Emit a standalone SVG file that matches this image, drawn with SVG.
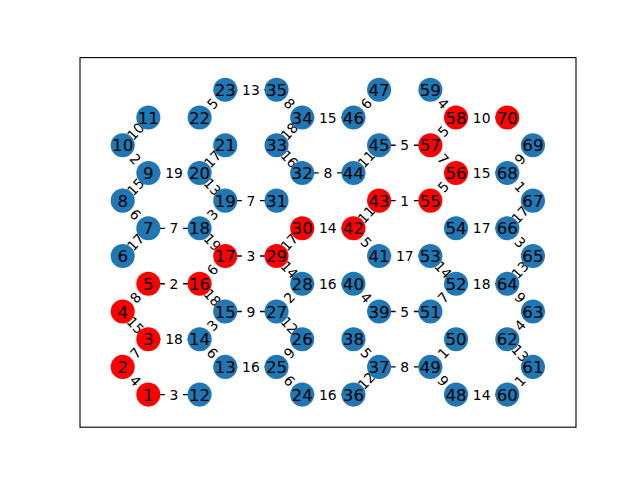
<svg xmlns="http://www.w3.org/2000/svg" xmlns:xlink="http://www.w3.org/1999/xlink" width="640" height="480" viewBox="0 0 640 480">
<style>
.e line{stroke:#000;stroke-width:1.39;fill:none}
.lb use{fill:#fff;stroke:#fff}
.lb text{font-family:"DejaVu Sans",sans-serif;font-size:13.89px;text-anchor:middle;fill:#000}
.nd circle{stroke:none}
.nd text{font-family:"DejaVu Sans",sans-serif;font-size:16.67px;text-anchor:middle;fill:#000}
.b{fill:#1f77b4}
.r{fill:#ff0000}
</style>
<defs>
<rect id="b1" x="-8.6" y="-11" width="17.2" height="22" rx="4"/>
<rect id="b2" x="-13" y="-11" width="26" height="22" rx="4"/>
</defs>
<rect x="0" y="0" width="640" height="480" fill="#fff"/>
<rect x="80" y="57.6" width="496" height="369.6" fill="none" stroke="#000" stroke-width="1.11"/>
<g id="connectors" class="e">
<line x1="122.7" y1="366.89" x2="148.34" y2="394.6"/>
<line x1="122.7" y1="366.89" x2="148.34" y2="339.18"/>
<line x1="122.7" y1="311.47" x2="148.34" y2="339.18"/>
<line x1="122.7" y1="311.47" x2="148.34" y2="283.76"/>
<line x1="122.7" y1="256.05" x2="148.34" y2="228.34"/>
<line x1="122.7" y1="200.63" x2="148.34" y2="228.34"/>
<line x1="122.7" y1="200.63" x2="148.34" y2="172.92"/>
<line x1="122.7" y1="145.21" x2="148.34" y2="172.92"/>
<line x1="122.7" y1="145.21" x2="148.34" y2="117.5"/>
<line x1="148.34" y1="394.6" x2="199.62" y2="394.6"/>
<line x1="148.34" y1="339.18" x2="199.62" y2="339.18"/>
<line x1="148.34" y1="283.76" x2="199.62" y2="283.76"/>
<line x1="148.34" y1="228.34" x2="199.62" y2="228.34"/>
<line x1="148.34" y1="172.92" x2="199.62" y2="172.92"/>
<line x1="199.62" y1="339.18" x2="225.26" y2="366.89"/>
<line x1="199.62" y1="339.18" x2="225.26" y2="311.47"/>
<line x1="199.62" y1="283.76" x2="225.26" y2="311.47"/>
<line x1="199.62" y1="283.76" x2="225.26" y2="256.05"/>
<line x1="199.62" y1="228.34" x2="225.26" y2="256.05"/>
<line x1="199.62" y1="228.34" x2="225.26" y2="200.63"/>
<line x1="199.62" y1="172.92" x2="225.26" y2="200.63"/>
<line x1="199.62" y1="172.92" x2="225.26" y2="145.21"/>
<line x1="199.62" y1="117.5" x2="225.26" y2="89.79"/>
<line x1="225.26" y1="366.89" x2="276.54" y2="366.89"/>
<line x1="225.26" y1="311.47" x2="276.54" y2="311.47"/>
<line x1="225.26" y1="256.05" x2="276.54" y2="256.05"/>
<line x1="225.26" y1="200.63" x2="276.54" y2="200.63"/>
<line x1="225.26" y1="89.79" x2="276.54" y2="89.79"/>
<line x1="276.54" y1="366.89" x2="302.18" y2="394.6"/>
<line x1="276.54" y1="366.89" x2="302.18" y2="339.18"/>
<line x1="276.54" y1="311.47" x2="302.18" y2="339.18"/>
<line x1="276.54" y1="311.47" x2="302.18" y2="283.76"/>
<line x1="276.54" y1="256.05" x2="302.18" y2="283.76"/>
<line x1="276.54" y1="256.05" x2="302.18" y2="228.34"/>
<line x1="276.54" y1="145.21" x2="302.18" y2="172.92"/>
<line x1="276.54" y1="145.21" x2="302.18" y2="117.5"/>
<line x1="276.54" y1="89.79" x2="302.18" y2="117.5"/>
<line x1="302.18" y1="394.6" x2="353.46" y2="394.6"/>
<line x1="302.18" y1="283.76" x2="353.46" y2="283.76"/>
<line x1="302.18" y1="228.34" x2="353.46" y2="228.34"/>
<line x1="302.18" y1="172.92" x2="353.46" y2="172.92"/>
<line x1="302.18" y1="117.5" x2="353.46" y2="117.5"/>
<line x1="353.46" y1="394.6" x2="379.1" y2="366.89"/>
<line x1="353.46" y1="339.18" x2="379.1" y2="366.89"/>
<line x1="353.46" y1="283.76" x2="379.1" y2="311.47"/>
<line x1="353.46" y1="228.34" x2="379.1" y2="256.05"/>
<line x1="353.46" y1="228.34" x2="379.1" y2="200.63"/>
<line x1="353.46" y1="172.92" x2="379.1" y2="145.21"/>
<line x1="353.46" y1="117.5" x2="379.1" y2="89.79"/>
<line x1="379.1" y1="366.89" x2="430.38" y2="366.89"/>
<line x1="379.1" y1="311.47" x2="430.38" y2="311.47"/>
<line x1="379.1" y1="256.05" x2="430.38" y2="256.05"/>
<line x1="379.1" y1="200.63" x2="430.38" y2="200.63"/>
<line x1="379.1" y1="145.21" x2="430.38" y2="145.21"/>
<line x1="430.38" y1="366.89" x2="456.02" y2="394.6"/>
<line x1="430.38" y1="366.89" x2="456.02" y2="339.18"/>
<line x1="430.38" y1="311.47" x2="456.02" y2="283.76"/>
<line x1="430.38" y1="256.05" x2="456.02" y2="283.76"/>
<line x1="430.38" y1="200.63" x2="456.02" y2="172.92"/>
<line x1="430.38" y1="145.21" x2="456.02" y2="172.92"/>
<line x1="430.38" y1="145.21" x2="456.02" y2="117.5"/>
<line x1="430.38" y1="89.79" x2="456.02" y2="117.5"/>
<line x1="456.02" y1="394.6" x2="507.3" y2="394.6"/>
<line x1="456.02" y1="283.76" x2="507.3" y2="283.76"/>
<line x1="456.02" y1="228.34" x2="507.3" y2="228.34"/>
<line x1="456.02" y1="172.92" x2="507.3" y2="172.92"/>
<line x1="456.02" y1="117.5" x2="507.3" y2="117.5"/>
<line x1="507.3" y1="394.6" x2="532.94" y2="366.89"/>
<line x1="507.3" y1="339.18" x2="532.94" y2="366.89"/>
<line x1="507.3" y1="339.18" x2="532.94" y2="311.47"/>
<line x1="507.3" y1="283.76" x2="532.94" y2="311.47"/>
<line x1="507.3" y1="283.76" x2="532.94" y2="256.05"/>
<line x1="507.3" y1="228.34" x2="532.94" y2="256.05"/>
<line x1="507.3" y1="228.34" x2="532.94" y2="200.63"/>
<line x1="507.3" y1="172.92" x2="532.94" y2="200.63"/>
<line x1="507.3" y1="172.92" x2="532.94" y2="145.21"/>
</g>
<g id="connector-labels" class="lb">
<g transform="translate(135.52,380.745) rotate(47.22)"><use xlink:href="#b1"/><text y="5.06">4</text></g>
<g transform="translate(135.52,353.035) rotate(-47.22)"><use xlink:href="#b1"/><text y="5.06">7</text></g>
<g transform="translate(135.52,325.325) rotate(47.22)"><use xlink:href="#b2"/><text y="5.06">15</text></g>
<g transform="translate(135.52,297.615) rotate(-47.22)"><use xlink:href="#b1"/><text y="5.06">8</text></g>
<g transform="translate(135.52,242.195) rotate(-47.22)"><use xlink:href="#b2"/><text y="5.06">17</text></g>
<g transform="translate(135.52,214.485) rotate(47.22)"><use xlink:href="#b1"/><text y="5.06">6</text></g>
<g transform="translate(135.52,186.775) rotate(-47.22)"><use xlink:href="#b2"/><text y="5.06">15</text></g>
<g transform="translate(135.52,159.065) rotate(47.22)"><use xlink:href="#b1"/><text y="5.06">2</text></g>
<g transform="translate(135.52,131.355) rotate(-47.22)"><use xlink:href="#b2"/><text y="5.06">10</text></g>
<g transform="translate(173.98,394.6)"><use xlink:href="#b1"/><text y="5.06">3</text></g>
<g transform="translate(173.98,339.18)"><use xlink:href="#b2"/><text y="5.06">18</text></g>
<g transform="translate(173.98,283.76)"><use xlink:href="#b1"/><text y="5.06">2</text></g>
<g transform="translate(173.98,228.34)"><use xlink:href="#b1"/><text y="5.06">7</text></g>
<g transform="translate(173.98,172.92)"><use xlink:href="#b2"/><text y="5.06">19</text></g>
<g transform="translate(212.44,353.035) rotate(47.22)"><use xlink:href="#b1"/><text y="5.06">6</text></g>
<g transform="translate(212.44,325.325) rotate(-47.22)"><use xlink:href="#b1"/><text y="5.06">3</text></g>
<g transform="translate(212.44,297.615) rotate(47.22)"><use xlink:href="#b2"/><text y="5.06">18</text></g>
<g transform="translate(212.44,269.905) rotate(-47.22)"><use xlink:href="#b1"/><text y="5.06">6</text></g>
<g transform="translate(212.44,242.195) rotate(47.22)"><use xlink:href="#b2"/><text y="5.06">19</text></g>
<g transform="translate(212.44,214.485) rotate(-47.22)"><use xlink:href="#b1"/><text y="5.06">3</text></g>
<g transform="translate(212.44,186.775) rotate(47.22)"><use xlink:href="#b2"/><text y="5.06">13</text></g>
<g transform="translate(212.44,159.065) rotate(-47.22)"><use xlink:href="#b2"/><text y="5.06">17</text></g>
<g transform="translate(212.44,103.645) rotate(-47.22)"><use xlink:href="#b1"/><text y="5.06">5</text></g>
<g transform="translate(250.9,366.89)"><use xlink:href="#b2"/><text y="5.06">16</text></g>
<g transform="translate(250.9,311.47)"><use xlink:href="#b1"/><text y="5.06">9</text></g>
<g transform="translate(250.9,256.05)"><use xlink:href="#b1"/><text y="5.06">3</text></g>
<g transform="translate(250.9,200.63)"><use xlink:href="#b1"/><text y="5.06">7</text></g>
<g transform="translate(250.9,89.79)"><use xlink:href="#b2"/><text y="5.06">13</text></g>
<g transform="translate(289.36,380.745) rotate(47.22)"><use xlink:href="#b1"/><text y="5.06">6</text></g>
<g transform="translate(289.36,353.035) rotate(-47.22)"><use xlink:href="#b1"/><text y="5.06">9</text></g>
<g transform="translate(289.36,325.325) rotate(47.22)"><use xlink:href="#b2"/><text y="5.06">12</text></g>
<g transform="translate(289.36,297.615) rotate(-47.22)"><use xlink:href="#b1"/><text y="5.06">2</text></g>
<g transform="translate(289.36,269.905) rotate(47.22)"><use xlink:href="#b2"/><text y="5.06">14</text></g>
<g transform="translate(289.36,242.195) rotate(-47.22)"><use xlink:href="#b2"/><text y="5.06">17</text></g>
<g transform="translate(289.36,159.065) rotate(47.22)"><use xlink:href="#b2"/><text y="5.06">16</text></g>
<g transform="translate(289.36,131.355) rotate(-47.22)"><use xlink:href="#b2"/><text y="5.06">18</text></g>
<g transform="translate(289.36,103.645) rotate(47.22)"><use xlink:href="#b1"/><text y="5.06">8</text></g>
<g transform="translate(327.82,394.6)"><use xlink:href="#b2"/><text y="5.06">16</text></g>
<g transform="translate(327.82,283.76)"><use xlink:href="#b2"/><text y="5.06">16</text></g>
<g transform="translate(327.82,228.34)"><use xlink:href="#b2"/><text y="5.06">14</text></g>
<g transform="translate(327.82,172.92)"><use xlink:href="#b1"/><text y="5.06">8</text></g>
<g transform="translate(327.82,117.5)"><use xlink:href="#b2"/><text y="5.06">15</text></g>
<g transform="translate(366.28,380.745) rotate(-47.22)"><use xlink:href="#b2"/><text y="5.06">12</text></g>
<g transform="translate(366.28,353.035) rotate(47.22)"><use xlink:href="#b1"/><text y="5.06">5</text></g>
<g transform="translate(366.28,297.615) rotate(47.22)"><use xlink:href="#b1"/><text y="5.06">4</text></g>
<g transform="translate(366.28,242.195) rotate(47.22)"><use xlink:href="#b1"/><text y="5.06">5</text></g>
<g transform="translate(366.28,214.485) rotate(-47.22)"><use xlink:href="#b2"/><text y="5.06">11</text></g>
<g transform="translate(366.28,159.065) rotate(-47.22)"><use xlink:href="#b2"/><text y="5.06">11</text></g>
<g transform="translate(366.28,103.645) rotate(-47.22)"><use xlink:href="#b1"/><text y="5.06">6</text></g>
<g transform="translate(404.74,366.89)"><use xlink:href="#b1"/><text y="5.06">8</text></g>
<g transform="translate(404.74,311.47)"><use xlink:href="#b1"/><text y="5.06">5</text></g>
<g transform="translate(404.74,256.05)"><use xlink:href="#b2"/><text y="5.06">17</text></g>
<g transform="translate(404.74,200.63)"><use xlink:href="#b1"/><text y="5.06">1</text></g>
<g transform="translate(404.74,145.21)"><use xlink:href="#b1"/><text y="5.06">5</text></g>
<g transform="translate(443.2,380.745) rotate(47.22)"><use xlink:href="#b1"/><text y="5.06">9</text></g>
<g transform="translate(443.2,353.035) rotate(-47.22)"><use xlink:href="#b1"/><text y="5.06">1</text></g>
<g transform="translate(443.2,297.615) rotate(-47.22)"><use xlink:href="#b1"/><text y="5.06">7</text></g>
<g transform="translate(443.2,269.905) rotate(47.22)"><use xlink:href="#b2"/><text y="5.06">14</text></g>
<g transform="translate(443.2,186.775) rotate(-47.22)"><use xlink:href="#b1"/><text y="5.06">5</text></g>
<g transform="translate(443.2,159.065) rotate(47.22)"><use xlink:href="#b1"/><text y="5.06">7</text></g>
<g transform="translate(443.2,131.355) rotate(-47.22)"><use xlink:href="#b1"/><text y="5.06">5</text></g>
<g transform="translate(443.2,103.645) rotate(47.22)"><use xlink:href="#b1"/><text y="5.06">4</text></g>
<g transform="translate(481.66,394.6)"><use xlink:href="#b2"/><text y="5.06">14</text></g>
<g transform="translate(481.66,283.76)"><use xlink:href="#b2"/><text y="5.06">18</text></g>
<g transform="translate(481.66,228.34)"><use xlink:href="#b2"/><text y="5.06">17</text></g>
<g transform="translate(481.66,172.92)"><use xlink:href="#b2"/><text y="5.06">15</text></g>
<g transform="translate(481.66,117.5)"><use xlink:href="#b2"/><text y="5.06">10</text></g>
<g transform="translate(520.12,380.745) rotate(-47.22)"><use xlink:href="#b1"/><text y="5.06">1</text></g>
<g transform="translate(520.12,353.035) rotate(47.22)"><use xlink:href="#b2"/><text y="5.06">13</text></g>
<g transform="translate(520.12,325.325) rotate(-47.22)"><use xlink:href="#b1"/><text y="5.06">4</text></g>
<g transform="translate(520.12,297.615) rotate(47.22)"><use xlink:href="#b1"/><text y="5.06">9</text></g>
<g transform="translate(520.12,269.905) rotate(-47.22)"><use xlink:href="#b2"/><text y="5.06">13</text></g>
<g transform="translate(520.12,242.195) rotate(47.22)"><use xlink:href="#b1"/><text y="5.06">3</text></g>
<g transform="translate(520.12,214.485) rotate(-47.22)"><use xlink:href="#b2"/><text y="5.06">17</text></g>
<g transform="translate(520.12,186.775) rotate(47.22)"><use xlink:href="#b1"/><text y="5.06">1</text></g>
<g transform="translate(520.12,159.065) rotate(-47.22)"><use xlink:href="#b1"/><text y="5.06">9</text></g>
</g>
<g id="nodes" class="nd">
<g id="n1"><circle class="r" cx="148.34" cy="394.6" r="12.03"/><text x="148.34" y="400.68">1</text></g>
<g id="n2"><circle class="r" cx="122.7" cy="366.89" r="12.03"/><text x="122.7" y="372.97">2</text></g>
<g id="n3"><circle class="r" cx="148.34" cy="339.18" r="12.03"/><text x="148.34" y="345.26">3</text></g>
<g id="n4"><circle class="r" cx="122.7" cy="311.47" r="12.03"/><text x="122.7" y="317.55">4</text></g>
<g id="n5"><circle class="r" cx="148.34" cy="283.76" r="12.03"/><text x="148.34" y="289.84">5</text></g>
<g id="n6"><circle class="b" cx="122.7" cy="256.05" r="12.03"/><text x="122.7" y="262.13">6</text></g>
<g id="n7"><circle class="b" cx="148.34" cy="228.34" r="12.03"/><text x="148.34" y="234.42">7</text></g>
<g id="n8"><circle class="b" cx="122.7" cy="200.63" r="12.03"/><text x="122.7" y="206.71">8</text></g>
<g id="n9"><circle class="b" cx="148.34" cy="172.92" r="12.03"/><text x="148.34" y="179">9</text></g>
<g id="n10"><circle class="b" cx="122.7" cy="145.21" r="12.03"/><text x="122.7" y="151.29">10</text></g>
<g id="n11"><circle class="b" cx="148.34" cy="117.5" r="12.03"/><text x="148.34" y="123.58">11</text></g>
<g id="n12"><circle class="b" cx="199.62" cy="394.6" r="12.03"/><text x="199.62" y="400.68">12</text></g>
<g id="n13"><circle class="b" cx="225.26" cy="366.89" r="12.03"/><text x="225.26" y="372.97">13</text></g>
<g id="n14"><circle class="b" cx="199.62" cy="339.18" r="12.03"/><text x="199.62" y="345.26">14</text></g>
<g id="n15"><circle class="b" cx="225.26" cy="311.47" r="12.03"/><text x="225.26" y="317.55">15</text></g>
<g id="n16"><circle class="r" cx="199.62" cy="283.76" r="12.03"/><text x="199.62" y="289.84">16</text></g>
<g id="n17"><circle class="r" cx="225.26" cy="256.05" r="12.03"/><text x="225.26" y="262.13">17</text></g>
<g id="n18"><circle class="b" cx="199.62" cy="228.34" r="12.03"/><text x="199.62" y="234.42">18</text></g>
<g id="n19"><circle class="b" cx="225.26" cy="200.63" r="12.03"/><text x="225.26" y="206.71">19</text></g>
<g id="n20"><circle class="b" cx="199.62" cy="172.92" r="12.03"/><text x="199.62" y="179">20</text></g>
<g id="n21"><circle class="b" cx="225.26" cy="145.21" r="12.03"/><text x="225.26" y="151.29">21</text></g>
<g id="n22"><circle class="b" cx="199.62" cy="117.5" r="12.03"/><text x="199.62" y="123.58">22</text></g>
<g id="n23"><circle class="b" cx="225.26" cy="89.79" r="12.03"/><text x="225.26" y="95.87">23</text></g>
<g id="n24"><circle class="b" cx="302.18" cy="394.6" r="12.03"/><text x="302.18" y="400.68">24</text></g>
<g id="n25"><circle class="b" cx="276.54" cy="366.89" r="12.03"/><text x="276.54" y="372.97">25</text></g>
<g id="n26"><circle class="b" cx="302.18" cy="339.18" r="12.03"/><text x="302.18" y="345.26">26</text></g>
<g id="n27"><circle class="b" cx="276.54" cy="311.47" r="12.03"/><text x="276.54" y="317.55">27</text></g>
<g id="n28"><circle class="b" cx="302.18" cy="283.76" r="12.03"/><text x="302.18" y="289.84">28</text></g>
<g id="n29"><circle class="r" cx="276.54" cy="256.05" r="12.03"/><text x="276.54" y="262.13">29</text></g>
<g id="n30"><circle class="r" cx="302.18" cy="228.34" r="12.03"/><text x="302.18" y="234.42">30</text></g>
<g id="n31"><circle class="b" cx="276.54" cy="200.63" r="12.03"/><text x="276.54" y="206.71">31</text></g>
<g id="n32"><circle class="b" cx="302.18" cy="172.92" r="12.03"/><text x="302.18" y="179">32</text></g>
<g id="n33"><circle class="b" cx="276.54" cy="145.21" r="12.03"/><text x="276.54" y="151.29">33</text></g>
<g id="n34"><circle class="b" cx="302.18" cy="117.5" r="12.03"/><text x="302.18" y="123.58">34</text></g>
<g id="n35"><circle class="b" cx="276.54" cy="89.79" r="12.03"/><text x="276.54" y="95.87">35</text></g>
<g id="n36"><circle class="b" cx="353.46" cy="394.6" r="12.03"/><text x="353.46" y="400.68">36</text></g>
<g id="n37"><circle class="b" cx="379.1" cy="366.89" r="12.03"/><text x="379.1" y="372.97">37</text></g>
<g id="n38"><circle class="b" cx="353.46" cy="339.18" r="12.03"/><text x="353.46" y="345.26">38</text></g>
<g id="n39"><circle class="b" cx="379.1" cy="311.47" r="12.03"/><text x="379.1" y="317.55">39</text></g>
<g id="n40"><circle class="b" cx="353.46" cy="283.76" r="12.03"/><text x="353.46" y="289.84">40</text></g>
<g id="n41"><circle class="b" cx="379.1" cy="256.05" r="12.03"/><text x="379.1" y="262.13">41</text></g>
<g id="n42"><circle class="r" cx="353.46" cy="228.34" r="12.03"/><text x="353.46" y="234.42">42</text></g>
<g id="n43"><circle class="r" cx="379.1" cy="200.63" r="12.03"/><text x="379.1" y="206.71">43</text></g>
<g id="n44"><circle class="b" cx="353.46" cy="172.92" r="12.03"/><text x="353.46" y="179">44</text></g>
<g id="n45"><circle class="b" cx="379.1" cy="145.21" r="12.03"/><text x="379.1" y="151.29">45</text></g>
<g id="n46"><circle class="b" cx="353.46" cy="117.5" r="12.03"/><text x="353.46" y="123.58">46</text></g>
<g id="n47"><circle class="b" cx="379.1" cy="89.79" r="12.03"/><text x="379.1" y="95.87">47</text></g>
<g id="n48"><circle class="b" cx="456.02" cy="394.6" r="12.03"/><text x="456.02" y="400.68">48</text></g>
<g id="n49"><circle class="b" cx="430.38" cy="366.89" r="12.03"/><text x="430.38" y="372.97">49</text></g>
<g id="n50"><circle class="b" cx="456.02" cy="339.18" r="12.03"/><text x="456.02" y="345.26">50</text></g>
<g id="n51"><circle class="b" cx="430.38" cy="311.47" r="12.03"/><text x="430.38" y="317.55">51</text></g>
<g id="n52"><circle class="b" cx="456.02" cy="283.76" r="12.03"/><text x="456.02" y="289.84">52</text></g>
<g id="n53"><circle class="b" cx="430.38" cy="256.05" r="12.03"/><text x="430.38" y="262.13">53</text></g>
<g id="n54"><circle class="b" cx="456.02" cy="228.34" r="12.03"/><text x="456.02" y="234.42">54</text></g>
<g id="n55"><circle class="r" cx="430.38" cy="200.63" r="12.03"/><text x="430.38" y="206.71">55</text></g>
<g id="n56"><circle class="r" cx="456.02" cy="172.92" r="12.03"/><text x="456.02" y="179">56</text></g>
<g id="n57"><circle class="r" cx="430.38" cy="145.21" r="12.03"/><text x="430.38" y="151.29">57</text></g>
<g id="n58"><circle class="r" cx="456.02" cy="117.5" r="12.03"/><text x="456.02" y="123.58">58</text></g>
<g id="n59"><circle class="b" cx="430.38" cy="89.79" r="12.03"/><text x="430.38" y="95.87">59</text></g>
<g id="n60"><circle class="b" cx="507.3" cy="394.6" r="12.03"/><text x="507.3" y="400.68">60</text></g>
<g id="n61"><circle class="b" cx="532.94" cy="366.89" r="12.03"/><text x="532.94" y="372.97">61</text></g>
<g id="n62"><circle class="b" cx="507.3" cy="339.18" r="12.03"/><text x="507.3" y="345.26">62</text></g>
<g id="n63"><circle class="b" cx="532.94" cy="311.47" r="12.03"/><text x="532.94" y="317.55">63</text></g>
<g id="n64"><circle class="b" cx="507.3" cy="283.76" r="12.03"/><text x="507.3" y="289.84">64</text></g>
<g id="n65"><circle class="b" cx="532.94" cy="256.05" r="12.03"/><text x="532.94" y="262.13">65</text></g>
<g id="n66"><circle class="b" cx="507.3" cy="228.34" r="12.03"/><text x="507.3" y="234.42">66</text></g>
<g id="n67"><circle class="b" cx="532.94" cy="200.63" r="12.03"/><text x="532.94" y="206.71">67</text></g>
<g id="n68"><circle class="b" cx="507.3" cy="172.92" r="12.03"/><text x="507.3" y="179">68</text></g>
<g id="n69"><circle class="b" cx="532.94" cy="145.21" r="12.03"/><text x="532.94" y="151.29">69</text></g>
<g id="n70"><circle class="r" cx="507.3" cy="117.5" r="12.03"/><text x="507.3" y="123.58">70</text></g>
</g>
</svg>
